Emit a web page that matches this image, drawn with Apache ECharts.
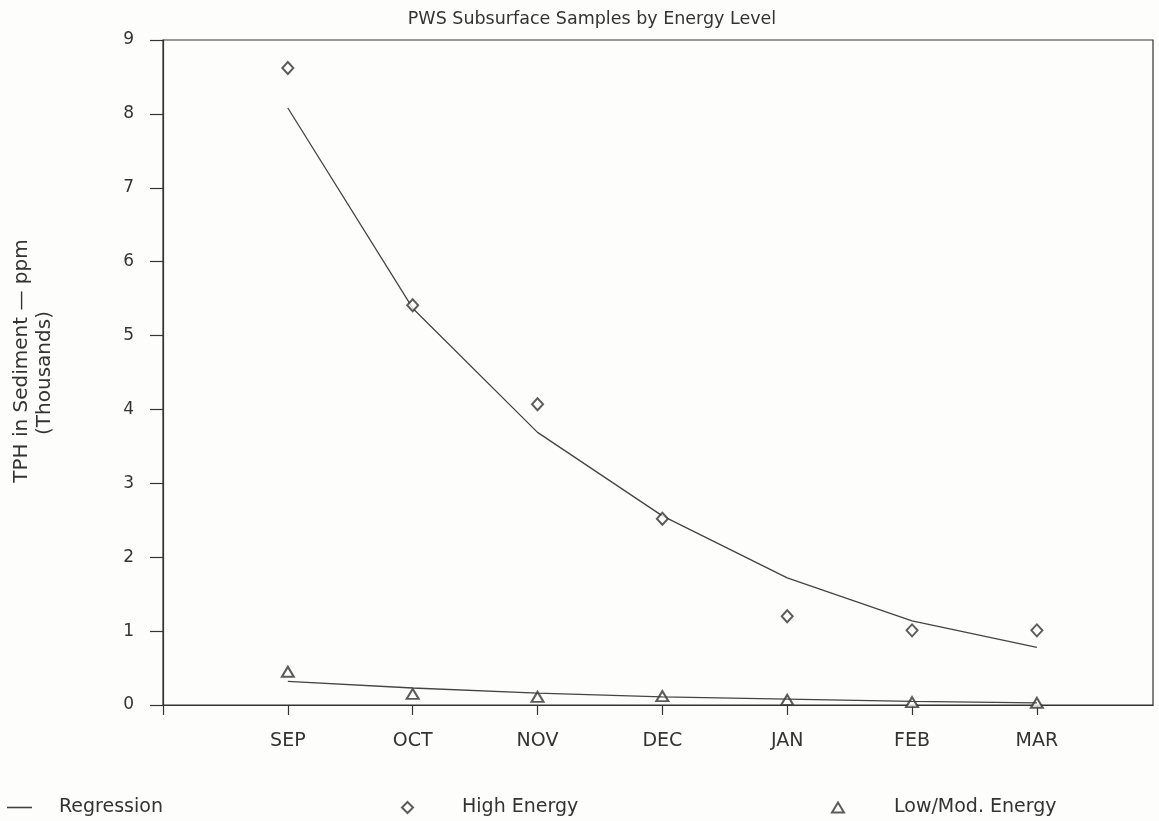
<!DOCTYPE html>
<html>
<head>
<meta charset="utf-8">
<script src="https://cdn.jsdelivr.net/npm/echarts@6/dist/echarts.min.js"></script>
<style>
  html, body { margin: 0; padding: 0; background: #fdfdfb; }
  #chart { width: 1159px; height: 821px; }
</style>
</head>
<body>
<div id="chart"></div>
<script>
// Sampling months
const months = ['SEP', 'OCT', 'NOV', 'DEC', 'JAN', 'FEB', 'MAR'];
// TPH in sediment, ppm (thousands)
const highEnergy = [8.62, 5.41, 4.07, 2.52, 1.20, 1.01, 1.01];
const highRegression = [8.08, 5.37, 3.69, 2.56, 1.72, 1.14, 0.78];
const lowEnergy = [0.45, 0.15, 0.11, 0.12, 0.07, 0.04, 0.03];
const lowRegression = [0.32, 0.23, 0.16, 0.11, 0.08, 0.05, 0.03];
const yTicks = [0, 1, 2, 3, 4, 5, 6, 7, 8, 9];

const pairs = arr => arr.map((v, i) => [i, v]);
const ink = '#333';
const font = 'DejaVu Sans';
const txt = size => ({ fontFamily: font, fontSize: size, color: ink });

const chart = echarts.init(document.getElementById('chart'), null, { renderer: 'canvas' });
chart.setOption({
  backgroundColor: '#fdfdfb',
  animation: false,
  textStyle: { fontFamily: font, color: ink },
  title: {
    text: 'PWS Subsurface Samples by Energy Level',
    left: 587, top: 5, textAlign: 'center',
    textStyle: Object.assign(txt(17.5), { fontWeight: 'normal' })
  },
  grid: {
    left: 163, top: 40, right: 6, bottom: 116,
    show: true, borderColor: ink, borderWidth: 1.2, backgroundColor: 'transparent'
  },
  xAxis: {
    type: 'value', min: -1, max: 6.93, interval: 1,
    axisLine: { show: true, onZero: false, lineStyle: { color: ink, width: 1.2 } },
    axisTick: { show: true, length: 10, inside: false, customValues: [-1, 0, 1, 2, 3, 4, 5, 6], lineStyle: { color: ink, width: 1.2 } },
    axisLabel: Object.assign({
      customValues: [0, 1, 2, 3, 4, 5, 6],
      formatter: v => months[Math.round(v)] || '',
      margin: 27
    }, txt(19)),
    splitLine: { show: false }
  },
  yAxis: {
    type: 'value', min: 0, max: 9, interval: 1,
    axisLine: { show: true, onZero: false, lineStyle: { color: ink, width: 1.2 } },
    axisTick: { show: true, length: 13, lineStyle: { color: ink, width: 1.2 } },
    axisLabel: Object.assign({
      formatter: v => yTicks.includes(v) ? String(v) : '',
      margin: 29
    }, txt(17)),
    splitLine: { show: false }
  },
  graphic: [
    {
      type: 'text', x: 22, y: 361, rotation: Math.PI / 2,
      style: Object.assign({ text: 'TPH in Sediment \u2014 ppm', align: 'center', verticalAlign: 'middle' }, txt(20), { fill: ink })
    },
    {
      type: 'text', x: 45, y: 373, rotation: Math.PI / 2,
      style: Object.assign({ text: '(Thousands)', align: 'center', verticalAlign: 'middle' }, txt(20), { fill: ink })
    }
  ],
  legend: [
    {
      left: 7, top: 798, itemWidth: 25, itemHeight: 1.6, padding: 0,
      data: [{ name: 'Regression', icon: 'rect' }],
      textStyle: Object.assign(txt(19), { padding: [0, 0, 0, 22] }),
      selectedMode: false
    },
    {
      left: 401, top: 798, itemWidth: 11, itemHeight: 11, padding: 0,
      data: [{ name: 'High Energy', icon: 'emptyDiamond' }],
      textStyle: Object.assign(txt(19), { padding: [0, 0, 0, 44] }),
      selectedMode: false
    },
    {
      left: 831, top: 798, itemWidth: 12, itemHeight: 10, padding: 0,
      data: [{ name: 'Low/Mod. Energy', icon: 'emptyTriangle' }],
      textStyle: Object.assign(txt(19), { padding: [0, 0, 0, 45] }),
      selectedMode: false
    }
  ],
  series: [
    {
      name: 'Regression', type: 'line', data: pairs(highRegression),
      symbol: 'none', lineStyle: { color: '#444', width: 1.3 }, itemStyle: { color: '#444' }, z: 2
    },
    {
      name: 'Regression', type: 'line', data: pairs(lowRegression),
      symbol: 'none', lineStyle: { color: '#444', width: 1.3 }, itemStyle: { color: '#444' }, z: 2
    },
    {
      name: 'High Energy', type: 'scatter', data: pairs(highEnergy),
      symbol: 'emptyDiamond', symbolSize: [11, 12],
      itemStyle: { color: ink, borderColor: ink, borderWidth: 1.1 }, z: 3
    },
    {
      name: 'Low/Mod. Energy', type: 'scatter', data: pairs(lowEnergy),
      symbol: 'emptyTriangle', symbolSize: [12, 10],
      itemStyle: { color: ink, borderColor: ink, borderWidth: 1.1 }, z: 1
    }
  ]
});
</script>
</body>
</html>
